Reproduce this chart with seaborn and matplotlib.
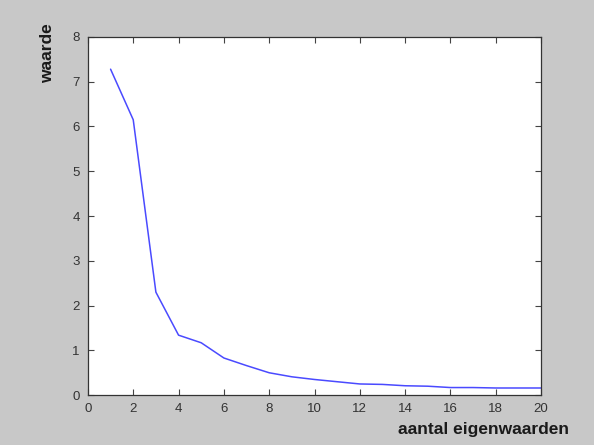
import numpy as np
import seaborn as sns
import matplotlib.pyplot as plt

# eigenvalue index and value
n_eig = [1, 2, 3, 4, 5, 6, 7, 8, 9, 10, 11, 12, 13, 14, 15, 16, 17, 18, 19, 20]
waarde = [7.28, 6.15, 2.3, 1.34, 1.17, 0.83, 0.66, 0.5, 0.41, 0.35,
          0.3, 0.25, 0.24, 0.21, 0.2, 0.17, 0.17, 0.16, 0.16, 0.16]
x_ticks = [0, 2, 4, 6, 8, 10, 12, 14, 16, 18, 20]
y_ticks = [0, 1, 2, 3, 4, 5, 6, 7, 8]

sns.set_style('ticks')
plt.rcParams['font.family'] = ['Liberation Sans', 'DejaVu Sans']

fig = plt.figure(figsize=(5.94, 4.45), dpi=100, facecolor='#c8c8c8')
ax = fig.add_axes([0.148, 0.112, 0.763, 0.805])
ax.set_facecolor('white')

sns.lineplot(x=n_eig, y=waarde, ax=ax, color='#4a4aff', linewidth=1.1)

ax.set_xlim(0, 20)
ax.set_ylim(0, 8)
ax.set_xticks(x_ticks)
ax.set_yticks(y_ticks)
ax.tick_params(direction='in', top=True, right=True, length=4, width=0.8,
               labelsize=9.5, labelcolor='#333333', color='#444444')
ax.tick_params(axis='x', pad=6)
ax.tick_params(axis='y', pad=6)
for s in ax.spines.values():
    s.set_color('#333333')
    s.set_linewidth(0.9)

ax.set_xlabel('aantal eigenwaarden', fontsize=12.5, fontweight='bold', color='#1a1a1a')
ax.set_ylabel('waarde', fontsize=12.5, fontweight='bold', color='#1a1a1a')
ax.xaxis.set_label_coords(0.872, -0.075)
ax.yaxis.set_label_coords(-0.073, 0.955)

fig.savefig('out.png', dpi=100, facecolor=fig.get_facecolor())
